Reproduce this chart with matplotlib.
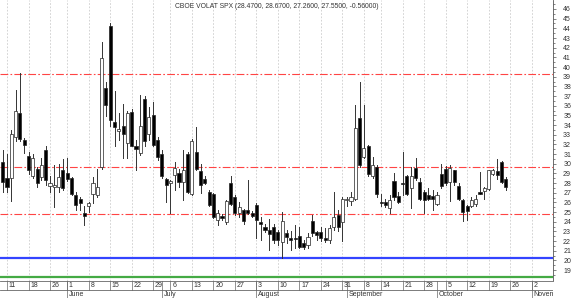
import matplotlib
matplotlib.use('Agg')
import matplotlib.pyplot as plt
import pandas as pd
from matplotlib.patches import Rectangle

plt.rcParams['font.family'] = ['Liberation Sans', 'DejaVu Sans']

title = 'CBOE VOLAT SPX (28.4700, 28.6700, 27.2600, 27.5500, -0.56000)'

# trading calendar (index 0 = 2009-05-07), candles start at index 1 (May 8)
holidays = ['2009-05-25', '2009-07-03', '2009-09-07']
first_day = 1

opens = [
    30.2, 28.5, 28.5, 32.8, 35.2, 32.5,   # May 8-15
    30.8, 28.7, 29.5, 28.6, 31.4,         # May 18-22
    27.7, 27.6, 27.6, 29.3,               # May 26-29
    29.0, 28.5, 26.8, 26.3, 24.9,         # Jun 1-5
    25.6, 26.9, 26.8, 29.7, 37.8,         # Jun 8-12
    44.2, 34.3, 33.4, 33.9, 32.1,         # Jun 15-19
    35.3, 31.8, 31.1, 36.7, 33.1,         # Jun 22-26
    35.0, 32.5, 31.0, 28.4,               # Jun 29-Jul 2
    28.0, 28.8, 29.0, 28.1, 31.0,         # Jul 6-10
    26.9, 31.2, 29.2, 28.4, 27.1,         # Jul 13-17
    26.9, 24.2, 24.6, 24.0, 28.0,         # Jul 20-24
    26.6, 24.9, 25.2, 25.2, 24.9,         # Jul 27-31
    25.7, 24.0, 23.5, 23.1, 23.5,         # Aug 3-7
    22.9, 21.9, 22.8, 22.3, 22.3,         # Aug 10-14
    22.5, 21.8, 21.6, 24.1, 22.9,         # Aug 17-21
    22.9, 22.3, 22.1, 23.5, 24.7,         # Aug 24-28
    24.0, 26.2, 26.1, 26.3, 34.7,         # Aug 31-Sep 4
    30.7, 31.8, 28.7, 29.7,               # Sep 8-11
    26.0, 26.0, 25.4, 28.2, 26.7,         # Sep 14-18
    28.0, 28.7, 27.5, 29.6, 28.1,         # Sep 21-25
    27.1, 26.8, 26.7, 25.8, 28.9,         # Sep 28-Oct 2
    29.5, 28.1, 29.3, 27.7, 26.2,         # Oct 5-9
    25.6, 25.6, 25.8, 27.1, 27.2,         # Oct 12-16
    27.35, 28.9, 29.2, 30.2, 28.47,       # Oct 19-23
]
highs = [
    31.4, 31.0, 33.5, 37.6, 39.4, 32.7,
    31.2, 31.0, 29.7, 30.6, 31.8,
    28.7, 29.9, 30.0, 30.5,
    30.6, 28.6, 27.1, 26.6, 25.6,
    26.0, 28.6, 29.5, 42.6, 38.5,
    44.5, 37.5, 35.2, 36.2, 35.4,
    35.7, 32.5, 37.1, 37.0, 35.9,
    36.4, 32.8, 31.4, 28.5,
    28.3, 30.2, 29.5, 31.4, 31.2,
    32.6, 33.8, 30.0, 28.7, 27.3,
    27.0, 25.2, 24.8, 26.2, 28.7,
    26.8, 26.0, 25.3, 28.3, 25.1,
    25.9, 24.5, 23.8, 24.3, 23.8,
    23.1, 25.0, 23.1, 23.0, 23.7,
    23.5, 22.1, 22.8, 24.7, 23.0,
    23.5, 23.3, 23.7, 27.1, 25.2,
    26.6, 26.6, 27.1, 36.1, 38.5,
    36.1, 31.9, 30.7, 29.9,
    26.9, 26.3, 26.8, 29.0, 27.1,
    31.2, 28.8, 29.7, 30.6, 28.5,
    27.3, 27.5, 27.3, 27.1, 30.0,
    29.8, 29.9, 29.4, 28.0, 26.3,
    25.7, 26.6, 26.8, 29.1, 27.6,
    29.4, 29.5, 30.5, 30.3, 28.67,
]
lows = [
    27.1, 27.1, 26.1, 32.3, 32.4, 31.1,
    28.9, 28.5, 27.6, 28.3, 27.8,
    27.1, 25.5, 27.1, 27.3,
    28.2, 26.8, 25.2, 25.2, 23.7,
    25.0, 25.9, 26.6, 29.5, 34.9,
    33.9, 31.8, 32.5, 30.6, 30.6,
    31.8, 29.4, 30.9, 31.8, 32.5,
    31.8, 30.4, 28.5, 26.0,
    24.9, 27.3, 27.6, 26.2, 27.0,
    26.8, 29.4, 27.0, 27.9, 25.6,
    24.4, 23.7, 24.2, 23.8, 25.7,
    24.7, 24.5, 23.8, 24.8, 24.5,
    22.3, 22.1, 22.9, 21.1, 21.8,
    21.6, 20.2, 21.8, 21.1, 21.3,
    21.3, 21.2, 21.3, 22.5, 22.1,
    22.0, 21.9, 21.8, 23.1, 23.0,
    22.0, 25.6, 25.7, 26.2, 29.7,
    30.6, 28.7, 28.5, 26.6,
    25.6, 25.5, 24.9, 26.2, 25.9,
    26.8, 26.8, 25.4, 28.3, 26.2,
    24.9, 26.2, 25.2, 25.7, 27.5,
    27.8, 26.1, 27.8, 26.2, 24.1,
    24.2, 25.5, 25.6, 26.9, 26.4,
    27.3, 28.8, 28.4, 28.0, 27.26,
]
closes = [
    28.1, 27.6, 33.1, 35.4, 32.6, 31.9,
    29.4, 30.6, 28.0, 29.9, 28.3,
    28.0, 27.8, 28.65, 27.5,
    28.4, 26.9, 25.7, 25.9, 24.6,
    25.9, 28.0, 27.6, 40.9, 36.1,
    34.5, 33.8, 33.6, 33.1, 35.2,
    31.8, 31.5, 33.9, 32.3, 34.8,
    31.9, 30.7, 28.7, 27.8,
    28.2, 29.6, 28.1, 29.4, 27.1,
    32.3, 29.5, 27.8, 28.0, 25.7,
    24.5, 24.9, 24.4, 26.1, 25.8,
    24.9, 25.5, 24.1, 24.9, 24.6,
    24.2, 23.8, 23.1, 22.7, 22.1,
    22.1, 24.1, 22.4, 22.1, 22.2,
    21.4, 21.4, 22.4, 22.8, 22.6,
    22.3, 22.1, 23.3, 24.5, 23.5,
    26.4, 26.4, 26.6, 33.7, 29.9,
    31.6, 28.9, 29.9, 26.9,
    25.9, 25.7, 26.2, 26.6, 26.0,
    27.9, 26.9, 28.7, 28.5, 26.4,
    26.2, 26.3, 26.4, 26.8, 27.7,
    28.0, 29.6, 28.1, 26.4, 25.0,
    25.1, 26.2, 26.4, 26.9, 27.45,
    29.3, 29.4, 28.8, 28.1, 27.55,
]

red_levels = [39.3, 29.65, 24.8]
blue_level = 20.3
green_level = 18.25

days = pd.bdate_range('2009-05-07', '2009-11-10', freq='C', holidays=holidays)
week_idx = [i for i in range(1, len(days)) if days[i].weekday() < days[i - 1].weekday()]
month_idx = [i for i in range(1, len(days)) if days[i].month != days[i - 1].month]

x0, x1 = 0.37, 128.97
W, H = 580, 298

fig = plt.figure(figsize=(W / 100, H / 100), dpi=100)
ax = fig.add_axes([0, 17 / H, 553 / W, 281 / H])
ax.set_xlim(x0, x1)
ax.set_ylim(17.87, 46.93)

for i in week_idx:
    ax.axvline(i, color='#cccccc', lw=0.6, ls=(0, (2, 2)), zorder=0)

for y in red_levels:
    ax.axhline(y, color='#ff4444', lw=0.8, ls=(0, (7, 2, 1.5, 2)), zorder=1)
ax.axhline(blue_level, color='#3344ff', lw=1.6, zorder=1)
ax.axhline(green_level, color='#44aa44', lw=1.6, zorder=1)

# candles
for k in range(len(opens)):
    x = first_day + k
    o, h, l, c = opens[k], highs[k], lows[k], closes[k]
    ax.plot([x, x], [l, h], color='#333333', lw=0.7, zorder=2)
    bottom = min(o, c)
    height = max(abs(c - o), 0.12)
    fc = 'white' if c >= o else 'black'
    ax.add_patch(Rectangle((x - 0.36, bottom), 0.72, height, facecolor=fc,
                           edgecolor='#222222', lw=0.5, zorder=3))

ax.text(0.5, 0.988, title, transform=ax.transAxes, ha='center', va='top',
        fontsize=4.9, color='#333333')

for s in ['left', 'top', 'bottom']:
    ax.spines[s].set_visible(False)
ax.spines['right'].set_color('#555555')
ax.spines['right'].set_linewidth(0.6)
ax.set_xticks([])
ax.yaxis.tick_right()
ax.set_yticks(range(19, 47))
ax.set_yticks([v + 0.5 for v in range(18, 47)], minor=True)
ax.tick_params(axis='y', which='major', length=2.5, width=0.5, pad=10.5,
               labelsize=5, labelcolor='#333333', color='#555555')
ax.tick_params(axis='y', which='minor', length=1.5, width=0.5, color='#555555')
for lab in ax.get_yticklabels():
    lab.set_horizontalalignment('right')

# date strip
dx = fig.add_axes([0, 0, 553 / W, 17 / H])
dx.set_xlim(x0, x1)
dx.set_ylim(0, 17)
dx.axis('off')
dx.axhline(16.7, color='#666666', lw=0.6)
dx.axhline(8, color='#666666', lw=0.6)
dx.axvline(x1 - 0.05, color='#666666', lw=0.6)
for i in week_idx:
    dx.plot([i, i], [8, 17], color='#666666', lw=0.5)
    dx.text(i + 0.4, 12.3, str(days[i].day), fontsize=5, ha='left', va='center',
            color='#333333', clip_on=True)
for i in month_idx:
    dx.plot([i, i], [0, 17], color='#666666', lw=0.5)
    dx.text(i + 0.4, 3.6, days[i].strftime('%B'), fontsize=5, ha='left',
            va='center', color='#333333', clip_on=True)

fig.savefig('out.png', dpi=100)
